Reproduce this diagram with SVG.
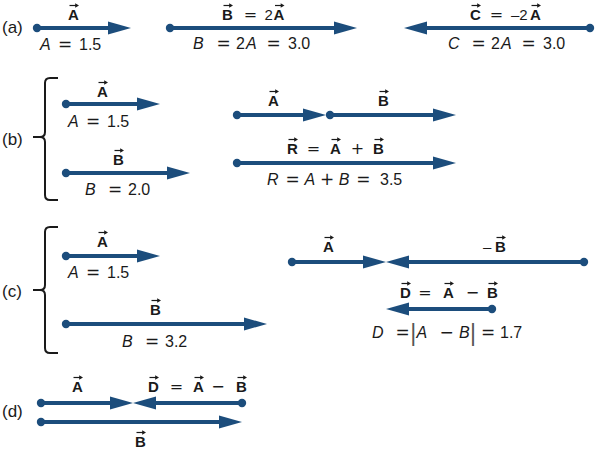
<svg xmlns="http://www.w3.org/2000/svg" xmlns:xlink="http://www.w3.org/1999/xlink" width="596" height="454" viewBox="0 0 596 454">
<style>
  text { font-family: "Liberation Sans", Arial, sans-serif; fill: #1a1a1a; }
  .v { font-weight: bold; font-size: 15px; }
  .s { font-size: 16px; }
  .i { font-style: italic; }
  .n { font-weight: normal; font-style: normal; }
  .o { font-family: "DejaVu Sans", sans-serif; font-weight: normal; font-style: normal; }
  .s .o { font-size: 17px; }
  .v .o { font-size: 16px; }
  .lab { font-size: 17px; }
  .arr { stroke: #1c4d7c; stroke-width: 4; fill: none; marker-start: url(#dot); marker-end: url(#head); }
  .br { stroke: #1a1a1a; stroke-width: 2; fill: none; }
  .bar { font-size: 23px; fill: #555; }
</style>
<defs>
  <marker id="head" markerUnits="userSpaceOnUse" markerWidth="24" markerHeight="14" viewBox="0 -7 24 14" refX="0" refY="0" orient="auto">
    <path d="M0,-6.5 L23,0 L0,6.5 z" fill="#1c4d7c"/>
  </marker>
  <marker id="dot" markerUnits="userSpaceOnUse" markerWidth="10" markerHeight="10" viewBox="-5 -5 10 10" refX="0" refY="0" orient="auto">
    <circle r="4.2" fill="#1c4d7c"/>
  </marker>
  <g id="va">
    <path d="M-4.5,0 H2" stroke="#1a1a1a" stroke-width="1.2"/>
    <path d="M1.2,-2.3 L5,0 L1.2,2.3 z" fill="#1a1a1a"/>
  </g>
</defs>

<g id="connectors">
  <!-- (a) -->
  <line class="arr" x1="37" y1="28" x2="108" y2="28"/>
  <line class="arr" x1="170" y1="28" x2="334" y2="28"/>
  <line class="arr" x1="590" y1="28" x2="427" y2="28"/>
  <!-- (b) -->
  <line class="arr" x1="66" y1="104" x2="137" y2="104"/>
  <line class="arr" x1="66" y1="173" x2="167" y2="173"/>
  <line class="arr" x1="237" y1="115" x2="303" y2="115"/>
  <line class="arr" x1="330" y1="115" x2="433" y2="115"/>
  <line class="arr" x1="237" y1="163" x2="433" y2="163"/>
  <!-- (c) -->
  <line class="arr" x1="66" y1="256" x2="137" y2="256"/>
  <line class="arr" x1="66" y1="324" x2="244" y2="324"/>
  <line class="arr" x1="292" y1="262" x2="363" y2="262"/>
  <line class="arr" x1="584" y1="262" x2="409" y2="262"/>
  <line class="arr" x1="492" y1="309" x2="409" y2="309"/>
  <!-- (d) -->
  <line class="arr" x1="41" y1="403" x2="110" y2="403"/>
  <line class="arr" x1="242" y1="403" x2="156" y2="403"/>
  <line class="arr" x1="41" y1="422" x2="219" y2="422"/>
</g>

<g id="part-a">
  <text class="lab" x="2" y="33">(a)</text>
  <g id="a-A">
    <text class="v" x="68" y="20">A</text>
    <use xlink:href="#va" x="74" y="5.5"/>
    <text class="s" y="50"><tspan class="i" x="40">A</tspan> <tspan class="o" x="57.9">=</tspan> <tspan x="79">1.5</tspan></text>
  </g>
  <g id="a-B">
    <text class="v" y="20"><tspan x="222">B</tspan> <tspan class="o" x="243.7">=</tspan> <tspan class="n" x="264.5">2</tspan><tspan x="273.5">A</tspan></text>
    <use xlink:href="#va" x="228" y="5.5"/>
    <use xlink:href="#va" x="279.5" y="5.5"/>
    <text class="s" y="49"><tspan class="i" x="193">B</tspan> <tspan class="o" x="216.4">=</tspan> <tspan x="236">2</tspan><tspan class="i" x="246">A</tspan> <tspan class="o" x="266.4">=</tspan> <tspan x="288">3.0</tspan></text>
  </g>
  <g id="a-C">
    <text class="v" y="20"><tspan x="470">C</tspan> <tspan class="o" x="489.7">=</tspan> <tspan class="n" x="511">–2</tspan><tspan x="530">A</tspan></text>
    <use xlink:href="#va" x="476" y="5.5"/>
    <use xlink:href="#va" x="536" y="5.5"/>
    <text class="s" y="49"><tspan class="i" x="448">C</tspan> <tspan class="o" x="471.4">=</tspan> <tspan x="491">2</tspan><tspan class="i" x="501">A</tspan> <tspan class="o" x="521.4">=</tspan> <tspan x="543">3.0</tspan></text>
  </g>
</g>

<g id="part-b">
  <text class="lab" x="2" y="145">(b)</text>
  <path class="br" d="M58,78 H50 Q45,78 45,83 V132 Q45,137 40,137 H33 M40,137 Q45,137 45,142 V195 Q45,200 50,200 H58"/>
  <g id="b-A">
    <text class="v" x="97" y="97">A</text>
    <use xlink:href="#va" x="103" y="82.5"/>
    <text class="s" y="127"><tspan class="i" x="68">A</tspan> <tspan class="o" x="85.9">=</tspan> <tspan x="107">1.5</tspan></text>
  </g>
  <g id="b-B">
    <text class="v" x="113" y="165">B</text>
    <use xlink:href="#va" x="119" y="150.5"/>
    <text class="s" y="195"><tspan class="i" x="85">B</tspan> <tspan class="o" x="107.9">=</tspan> <tspan x="128">2.0</tspan></text>
  </g>
  <g id="b-sum">
    <text class="v" x="268" y="106">A</text>
    <use xlink:href="#va" x="274" y="91.5"/>
    <text class="v" x="378" y="106">B</text>
    <use xlink:href="#va" x="384" y="91.5"/>
  </g>
  <g id="b-R">
    <text class="v" y="154"><tspan x="287">R</tspan> <tspan class="o" x="306.7">=</tspan> <tspan x="330">A</tspan> <tspan class="o" x="350.7">+</tspan> <tspan x="373">B</tspan></text>
    <use xlink:href="#va" x="293" y="139.5"/>
    <use xlink:href="#va" x="336" y="139.5"/>
    <use xlink:href="#va" x="379" y="139.5"/>
    <text class="s" y="185"><tspan class="i" x="267">R</tspan> <tspan class="o" x="285.4">=</tspan> <tspan class="i" x="304.5">A</tspan> <tspan class="o" x="319.9">+</tspan> <tspan class="i" x="338.7">B</tspan> <tspan class="o" x="356.3">=</tspan> <tspan x="380">3.5</tspan></text>
  </g>
</g>

<g id="part-c">
  <text class="lab" x="2" y="297">(c)</text>
  <path class="br" d="M58,227 H50 Q45,227 45,232 V285 Q45,290 40,290 H33 M40,290 Q45,290 45,295 V348 Q45,353 50,353 H58"/>
  <g id="c-A">
    <text class="v" x="97" y="247">A</text>
    <use xlink:href="#va" x="103" y="232.5"/>
    <text class="s" y="278"><tspan class="i" x="68">A</tspan> <tspan class="o" x="85.9">=</tspan> <tspan x="107">1.5</tspan></text>
  </g>
  <g id="c-B">
    <text class="v" x="150" y="315">B</text>
    <use xlink:href="#va" x="156" y="300.5"/>
    <text class="s" y="347"><tspan class="i" x="122">B</tspan> <tspan class="o" x="144.9">=</tspan> <tspan x="165">3.2</tspan></text>
  </g>
  <g id="c-diff">
    <text class="v" x="323" y="252">A</text>
    <use xlink:href="#va" x="329" y="237.5"/>
    <text class="v" y="252"><tspan class="n" x="483">–</tspan><tspan x="495">B</tspan></text>
    <use xlink:href="#va" x="501" y="237.5"/>
  </g>
  <g id="c-D">
    <text class="v" y="298"><tspan x="400">D</tspan> <tspan class="o" x="418.3">=</tspan> <tspan x="443">A</tspan> <tspan class="o" x="465.7">−</tspan> <tspan x="487">B</tspan></text>
    <use xlink:href="#va" x="406" y="283.5"/>
    <use xlink:href="#va" x="449" y="283.5"/>
    <use xlink:href="#va" x="493" y="283.5"/>
    <text class="s" y="338"><tspan class="i" x="372">D</tspan> <tspan class="o" x="395.4">=</tspan> <tspan class="bar" x="410.2" y="341">|</tspan><tspan class="i" x="416.5" y="338">A</tspan> <tspan class="o" x="439.4">−</tspan> <tspan class="i" x="459">B</tspan><tspan class="bar" x="470" y="341">|</tspan> <tspan class="o" x="481" y="338">=</tspan> <tspan x="500">1.7</tspan></text>
  </g>
</g>

<g id="part-d">
  <text class="lab" x="2" y="417">(d)</text>
  <g id="d-A">
    <text class="v" x="72" y="392">A</text>
    <use xlink:href="#va" x="78" y="377.5"/>
  </g>
  <g id="d-D">
    <text class="v" y="392"><tspan x="148">D</tspan> <tspan class="o" x="169.7">=</tspan> <tspan x="193">A</tspan> <tspan class="o" x="211.3">−</tspan> <tspan x="236">B</tspan></text>
    <use xlink:href="#va" x="154" y="377.5"/>
    <use xlink:href="#va" x="199" y="377.5"/>
    <use xlink:href="#va" x="242" y="377.5"/>
  </g>
  <g id="d-B">
    <text class="v" x="135" y="447">B</text>
    <use xlink:href="#va" x="141" y="432.5"/>
  </g>
</g>
</svg>
